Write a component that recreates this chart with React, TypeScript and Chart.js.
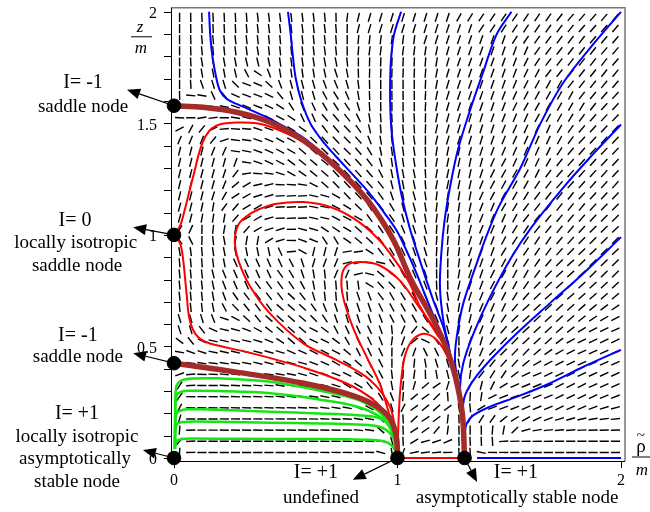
import React, { useEffect, useRef } from "react";
import { Chart, registerables } from "chart.js";
Chart.register(...registerables);

type P = [number, number];

// ---------- data ----------
const criticalPoints: P[] = [[0, 0], [0, 0.425], [0, 1.0], [0, 1.579], [1.0, 0], [1.3, 0]];

const brownUpper: P[] = [[0, 1.579], [0.13, 1.572], [0.28, 1.55], [0.43, 1.505], [0.58, 1.423], [0.73, 1.3], [0.87, 1.15], [0.98, 0.98], [1.06, 0.8], [1.16, 0.62], [1.22, 0.49], [1.26, 0.36], [1.29, 0.2], [1.3, 0.0]];
const brownLower: P[] = [[0, 0.425], [0.28, 0.385], [0.58, 0.335], [0.8, 0.28], [0.91, 0.23], [0.97, 0.17], [0.995, 0.095], [1.0, 0.0]];

const red1: P[] = [[0, 1.0], [0.027, 1.04], [0.05, 1.12], [0.07, 1.2], [0.093, 1.29], [0.116, 1.38], [0.14, 1.44], [0.17, 1.478], [0.21, 1.497], [0.26, 1.503], [0.37, 1.5], [0.474, 1.468], [0.58, 1.414], [0.73, 1.295], [0.87, 1.145], [0.98, 0.975], [1.06, 0.8], [1.16, 0.62], [1.22, 0.49], [1.26, 0.36], [1.29, 0.2], [1.3, 0.0]];
const red2: P[] = [[0, 1.0], [0.028, 0.96], [0.042, 0.88], [0.052, 0.78], [0.058, 0.72], [0.066, 0.64], [0.085, 0.575], [0.115, 0.535], [0.161, 0.513], [0.355, 0.468], [0.58, 0.405], [0.773, 0.334], [0.89, 0.262], [0.955, 0.19], [0.99, 0.1], [1.0, 0.0]];
const red3: P[] = [[1.0, 0.0], [0.994, 0.09], [0.966, 0.23], [0.877, 0.35], [0.73, 0.438], [0.58, 0.513], [0.43, 0.647], [0.34, 0.77], [0.29, 0.88], [0.272, 0.97], [0.285, 1.04], [0.32, 1.08], [0.38, 1.115], [0.46, 1.14], [0.58, 1.147], [0.7, 1.125], [0.817, 1.065], [0.92, 0.975], [1.0, 0.87], [1.056, 0.78], [1.1, 0.68], [1.175, 0.557], [1.22, 0.49], [1.26, 0.36], [1.29, 0.2], [1.3, 0.0]];
const red4: P[] = [[1.0, 0.0], [0.992, 0.09], [0.966, 0.185], [0.92, 0.334], [0.862, 0.453], [0.8, 0.587], [0.757, 0.72], [0.75, 0.81], [0.773, 0.863], [0.832, 0.878], [0.92, 0.863], [1.01, 0.796], [1.086, 0.692], [1.16, 0.587], [1.205, 0.513], [1.235, 0.44], [1.26, 0.36], [1.29, 0.2], [1.3, 0.0]];
const red5: P[] = [[1.0, 0.0], [1.003, 0.12], [1.01, 0.274], [1.02, 0.38], [1.034, 0.46], [1.06, 0.52], [1.1, 0.553], [1.14, 0.553], [1.175, 0.53], [1.205, 0.49], [1.235, 0.43], [1.26, 0.36], [1.29, 0.2], [1.3, 0.0]];
const redAxis: P[] = [[1.0, 0.0], [1.3, 0.0]];

const blue1: P[] = [[0.157, 2.0], [0.162, 1.9], [0.172, 1.8], [0.19, 1.7], [0.206, 1.646], [0.235, 1.61], [0.28, 1.587], [0.4, 1.535], [0.504, 1.48], [0.6, 1.42], [0.73, 1.3], [0.87, 1.15], [0.98, 0.98], [1.06, 0.8], [1.16, 0.62], [1.22, 0.49], [1.26, 0.36], [1.29, 0.2], [1.3, 0.0]];
const blue2: P[] = [[0.51, 2.0], [0.522, 1.9], [0.532, 1.8], [0.545, 1.7], [0.57, 1.6], [0.61, 1.5], [0.665, 1.42], [0.728, 1.348], [0.8, 1.27], [0.877, 1.184], [0.94, 1.1], [0.996, 1.02], [1.04, 0.93], [1.08, 0.84], [1.12, 0.74], [1.16, 0.64], [1.22, 0.49], [1.26, 0.36], [1.29, 0.2], [1.3, 0.0]];
const blue3: P[] = [[1.016, 2.0], [0.985, 1.9], [0.972, 1.8], [0.967, 1.68], [0.968, 1.56], [0.975, 1.45], [0.996, 1.3], [1.02, 1.17], [1.055, 1.03], [1.1, 0.886], [1.16, 0.707], [1.205, 0.587], [1.235, 0.47], [1.26, 0.36], [1.29, 0.2], [1.3, 0.0]];
const blue4: P[] = [[1.51, 2.0], [1.444, 1.9], [1.38, 1.72], [1.324, 1.557], [1.27, 1.38], [1.235, 1.214], [1.21, 1.06], [1.196, 0.916], [1.19, 0.766], [1.205, 0.617], [1.235, 0.47], [1.26, 0.36], [1.29, 0.2], [1.3, 0.0]];
const blue5: P[] = [[2.0, 2.0], [1.876, 1.855], [1.74, 1.68], [1.64, 1.5], [1.55, 1.3], [1.455, 1.13], [1.4, 1.0], [1.354, 0.871], [1.294, 0.692], [1.265, 0.543], [1.257, 0.44], [1.27, 0.34], [1.29, 0.2], [1.3, 0.0]];
const blue6: P[] = [[2.0, 1.495], [1.876, 1.363], [1.74, 1.21], [1.6, 1.035], [1.51, 0.9], [1.414, 0.722], [1.34, 0.558], [1.294, 0.424], [1.28, 0.32], [1.29, 0.2], [1.3, 0.0]];
const blue7: P[] = [[2.0, 0.99], [1.83, 0.826], [1.68, 0.692], [1.533, 0.558], [1.414, 0.438], [1.34, 0.349], [1.3, 0.274], [1.292, 0.2], [1.3, 0.0]];
const blue8: P[] = [[2.0, 0.485], [1.83, 0.408], [1.68, 0.334], [1.533, 0.274], [1.414, 0.23], [1.34, 0.192], [1.31, 0.155], [1.3, 0.1], [1.3, 0.0]];
const blueAxis: P[] = [[1.356, 0.0], [2.0, 0.0]];

const green1: P[] = [[0.004, 0.04], [0.006, 0.25], [0.01, 0.32], [0.02, 0.338], [0.04, 0.35], [0.08, 0.356], [0.2, 0.357], [0.43, 0.342], [0.65, 0.303], [0.82, 0.262], [0.92, 0.205], [0.97, 0.128], [0.995, 0.05], [1.0, 0.0]];
const green2: P[] = [[0.004, 0.04], [0.006, 0.22], [0.012, 0.28], [0.03, 0.296], [0.07, 0.301], [0.2, 0.3], [0.43, 0.29], [0.65, 0.262], [0.82, 0.23], [0.92, 0.185], [0.975, 0.122], [0.997, 0.045], [1.0, 0.0]];
const green3: P[] = [[0.004, 0.04], [0.006, 0.16], [0.012, 0.2], [0.03, 0.213], [0.07, 0.218], [0.2, 0.216], [0.43, 0.207], [0.65, 0.2], [0.82, 0.192], [0.92, 0.178], [0.97, 0.14], [0.995, 0.05], [1.0, 0.0]];
const green4: P[] = [[0.004, 0.04], [0.006, 0.115], [0.012, 0.148], [0.03, 0.16], [0.07, 0.163], [0.2, 0.162], [0.43, 0.158], [0.65, 0.155], [0.82, 0.15], [0.92, 0.14], [0.975, 0.1], [0.997, 0.03], [1.0, 0.0]];
const green5: P[] = [[0.004, 0.04], [0.007, 0.065], [0.015, 0.078], [0.035, 0.085], [0.08, 0.087], [0.3, 0.086], [0.6, 0.085], [0.85, 0.082], [0.94, 0.075], [0.975, 0.055], [0.995, 0.02], [1.0, 0.0]];

// dash orientations read in areas no trajectory passes through (not drawn; they only steer the direction field)
const fieldGuides: P[][] = [
  [[0, 1.62], [0, 2.02]],
  [[0.02, 0], [1.0, 0]],
  [[1.03, 0.03], [1.15, 0.06], [1.27, 0.1]],
  [[1.03, 0.1], [1.14, 0.17], [1.26, 0.25]],
  [[1.04, 0.22], [1.14, 0.29], [1.24, 0.35]],
];

const redCurves = [red1, red2, red3, red4, red5, redAxis];
const blueCurves = [blue1, blue2, blue3, blue4, blue5, blue6, blue7, blue8, blueAxis];
const greenCurves = [green1, green2, green3, green4, green5];
const brownCurves = [brownUpper, brownLower];

const xLimits: P = [-0.0134, 2.0179];
const yLimits: P = [-0.0134, 2.0179];
const yTickValues = [0, 0.5, 1, 1.5, 2];
const yTickLabels = ["0", "0.5", "1", "1.5", "2"];
const yMinorTicks = [0, 0.1, 0.2, 0.3, 0.4, 0.5, 0.6, 0.7, 0.8, 0.9, 1.0, 1.1, 1.2, 1.3, 1.4, 1.5, 1.6, 1.7, 1.8, 1.9, 2.0];
const xTickValues = [0, 1, 2];
const xTickLabels = ["0", "1", "2"];

const arrows: { from: P; tip: P }[] = [
  { from: [0, 1.579], tip: [-0.21, 1.651] },
  { from: [0, 1.0], tip: [-0.183, 1.034] },
  { from: [0, 0.425], tip: [-0.183, 0.47] },
  { from: [0, 0], tip: [-0.139, 0.036] },
  { from: [1.0, 0], tip: [0.8, -0.098] },
  { from: [1.3, 0], tip: [1.356, -0.107] },
];

const labelTexts: { text: string; at: P; size: number }[] = [
  { text: "I= -1", at: [-0.407, 1.682], size: 20 },
  { text: "saddle node", at: [-0.407, 1.575], size: 19 },
  { text: "I= 0", at: [-0.443, 1.065], size: 20 },
  { text: "locally isotropic", at: [-0.44, 0.962], size: 19 },
  { text: "saddle node", at: [-0.434, 0.859], size: 19 },
  { text: "I= -1", at: [-0.43, 0.55], size: 20 },
  { text: "saddle node", at: [-0.43, 0.452], size: 19 },
  { text: "I= +1", at: [-0.434, 0.2], size: 20 },
  { text: "locally isotropic", at: [-0.434, 0.094], size: 19 },
  { text: "asymptotically", at: [-0.443, -0.004], size: 19 },
  { text: "stable node", at: [-0.434, -0.107], size: 19 },
  { text: "I= +1", at: [0.635, -0.067], size: 20 },
  { text: "undefined", at: [0.658, -0.179], size: 19 },
  { text: "I= +1", at: [1.53, -0.067], size: 20 },
  { text: "asymptotically stable node", at: [1.535, -0.179], size: 19 },
];

// ---------- direction field (line field steered by the trajectories and guides above) ----------
function buildField() {
  const curves = [...brownCurves, ...redCurves, ...blueCurves, ...greenCurves, ...fieldGuides];
  const pts: { x: number; y: number }[] = [];
  const rot: number[] = [];
  for (let i = 0; i < 40; i++) {
    for (let j = 0; j < 40; j++) {
      const gx = 0.025 + 0.05 * i;
      const gy = 0.025 + 0.05 * j;
      let c = 0;
      let s = 0;
      for (const cv of curves) {
        let best = Infinity;
        let bdx = 1;
        let bdy = 0;
        for (let k = 0; k < cv.length - 1; k++) {
          const [x1, y1] = cv[k];
          const [x2, y2] = cv[k + 1];
          const dx = x2 - x1;
          const dy = y2 - y1;
          const L2 = dx * dx + dy * dy;
          if (L2 < 1e-12) continue;
          let t = ((gx - x1) * dx + (gy - y1) * dy) / L2;
          t = Math.max(0, Math.min(1, t));
          const d = Math.hypot(x1 + t * dx - gx, y1 + t * dy - gy);
          if (d < best) {
            best = d;
            bdx = dx;
            bdy = dy;
          }
        }
        const w = 1 / Math.pow(best + 0.02, 3.5);
        const a = Math.atan2(bdy, bdx);
        c += w * Math.cos(2 * a);
        s += w * Math.sin(2 * a);
      }
      const phi = Math.atan2(s, c) / 2;
      pts.push({ x: gx, y: gy });
      rot.push((-phi * 180) / Math.PI);
    }
  }
  return { pts, rot };
}

const toXY = (c: P[]) => c.map(([x, y]) => ({ x, y }));

const decorPlugin = {
  id: "decor",
  afterDatasetsDraw(chart: any) {
    const ctx: CanvasRenderingContext2D = chart.ctx;
    const xs = chart.scales.x;
    const ys = chart.scales.y;
    const X = (v: number) => xs.getPixelForValue(v);
    const Y = (v: number) => ys.getPixelForValue(v);
    const L = xs.left, R = xs.right, T = ys.top, B = ys.bottom;
    ctx.save();
    // frame
    ctx.strokeStyle = "#777";
    ctx.lineWidth = 1.5;
    ctx.beginPath();
    ctx.moveTo(L, T); ctx.lineTo(R, T); ctx.lineTo(R, B);
    ctx.stroke();
    ctx.strokeStyle = "#000";
    ctx.lineWidth = 1;
    ctx.beginPath();
    ctx.moveTo(L + 0.5, T); ctx.lineTo(L + 0.5, B + 0.5); ctx.lineTo(R, B + 0.5);
    ctx.stroke();
    // ticks
    ctx.beginPath();
    for (const v of yMinorTicks) {
      const py = Math.round(Y(v)) + 0.5;
      ctx.moveTo(L, py); ctx.lineTo(L - 7, py);
    }
    for (const v of xTickValues) {
      const px = Math.round(X(v)) + 0.5;
      ctx.moveTo(px, B); ctx.lineTo(px, B + 7);
    }
    ctx.stroke();
    ctx.fillStyle = "#000";
    ctx.font = '16px "Liberation Serif"';
    ctx.textAlign = "right";
    ctx.textBaseline = "middle";
    yTickValues.forEach((v, i) => ctx.fillText(yTickLabels[i], X(-0.076), Y(v) + 2));
    ctx.textAlign = "center";
    xTickValues.forEach((v, i) => ctx.fillText(xTickLabels[i], X(v), Y(-0.103)));
    // axis titles
    ctx.font = 'italic 17px "Liberation Serif"';
    ctx.fillText("z", X(-0.152), Y(1.93));
    ctx.fillText("m", X(-0.148), Y(1.836));
    ctx.fillText("m", X(2.094), Y(-0.058));
    ctx.font = '19px "Liberation Serif"';
    ctx.fillText("\u03c1", X(2.089), Y(0.048));
    ctx.font = '15px "Liberation Serif"';
    ctx.fillText("~", X(2.089), Y(0.1));
    ctx.lineWidth = 1;
    ctx.beginPath();
    ctx.moveTo(X(-0.192), Y(1.888)); ctx.lineTo(X(-0.098), Y(1.888));
    ctx.moveTo(X(2.049), Y(0.0045)); ctx.lineTo(X(2.13), Y(0.0045));
    ctx.stroke();
    // arrows
    for (const a of arrows) {
      const x0 = X(a.from[0]), y0 = Y(a.from[1]);
      const x1 = X(a.tip[0]), y1 = Y(a.tip[1]);
      const ang = Math.atan2(y1 - y0, x1 - x0);
      const len = 13, hw = 5.5;
      const bx = x1 - len * Math.cos(ang), by = y1 - len * Math.sin(ang);
      ctx.lineWidth = 1.2;
      ctx.beginPath();
      ctx.moveTo(x0, y0); ctx.lineTo(bx, by);
      ctx.stroke();
      ctx.beginPath();
      ctx.moveTo(x1, y1);
      ctx.lineTo(bx + hw * Math.sin(ang), by - hw * Math.cos(ang));
      ctx.lineTo(bx - hw * Math.sin(ang), by + hw * Math.cos(ang));
      ctx.closePath();
      ctx.fill();
    }
    // labels
    for (const t of labelTexts) {
      ctx.font = `${t.size}px "Liberation Serif"`;
      ctx.fillText(t.text, X(t.at[0]), Y(t.at[1]));
    }
    ctx.restore();
  },
};

export default function App() {
  const ref = useRef<HTMLCanvasElement>(null);
  useEffect(() => {
    document.body.style.margin = "0";
    const field = buildField();
    const curveSet = (curves: P[][], color: string, width: number, order: number) =>
      curves.map((c) => ({
        type: "line" as const,
        data: toXY(c),
        borderColor: color,
        borderWidth: width,
        pointRadius: 0,
        tension: 0.35,
        fill: false,
        clip: false as any,
        order,
      }));
    const chart = new Chart(ref.current as HTMLCanvasElement, {
      type: "scatter",
      data: {
        datasets: [
          {
            data: toXY(criticalPoints),
            pointRadius: 6.8,
            pointBackgroundColor: "#000",
            pointBorderColor: "#000",
            showLine: false,
            clip: false as any,
            order: 0,
          } as any,
          ...curveSet(brownCurves, "#a52a2a", 5.5, 2),
          ...curveSet(blueCurves, "#0000ff", 2, 3),
          ...curveSet(redCurves, "#ff0000", 2, 4),
          ...curveSet(greenCurves, "rgb(20,230,20)", 2.5, 5),
          {
            data: field.pts,
            pointStyle: "line",
            pointRadius: 4.6,
            pointRotation: field.rot,
            pointBorderColor: "#000",
            pointBorderWidth: 1.4,
            showLine: false,
            clip: false as any,
            order: 10,
          } as any,
        ],
      },
      options: {
        responsive: false,
        animation: false,
        devicePixelRatio: 1,
        events: [],
        layout: { padding: { left: 171, right: 25, top: 7, bottom: 51 } },
        plugins: { legend: { display: false }, tooltip: { enabled: false } },
        scales: {
          x: { type: "linear", min: xLimits[0], max: xLimits[1], display: false },
          y: { type: "linear", min: yLimits[0], max: yLimits[1], display: false },
        },
      },
      plugins: [decorPlugin],
    });
    return () => chart.destroy();
  }, []);
  return (
    <div style={{ position: "absolute", left: 0, top: 0, width: 650, height: 512 }}>
      <canvas ref={ref} width={650} height={512} style={{ display: "block", width: 650, height: 512 }} />
    </div>
  );
}
